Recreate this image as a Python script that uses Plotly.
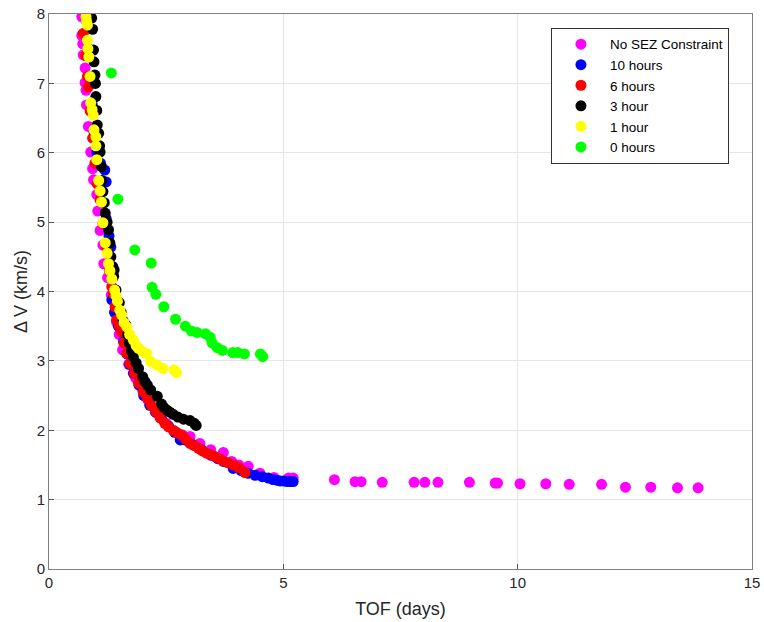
import plotly.graph_objects as go

# ---- data ----
nosez_tof = [0.70, 0.70, 0.72, 0.73, 0.77, 0.77, 0.79, 0.80, 0.84, 0.89, 0.93, 0.95, 1.02, 1.04, 1.09, 1.15, 1.17,
             1.25, 1.33, 1.40, 1.44, 1.50, 1.57, 1.70, 1.85, 2.00, 2.15, 2.30, 2.50, 2.70, 2.85, 3.01, 3.22, 3.45,
             3.72, 3.90, 4.05, 4.25, 4.50, 4.80, 5.11, 5.21,
             6.09, 6.53, 6.66, 7.11, 7.79, 8.02, 8.30, 8.97, 9.52, 9.57, 10.05, 10.60, 11.10, 11.79, 12.30, 12.84,
             13.41, 13.85]
nosez_dv = [7.96, 7.69, 7.57, 7.41, 7.22, 7.01, 6.90, 6.69, 6.38, 6.01, 5.77, 5.61, 5.40, 5.16, 4.88, 4.67, 4.40,
            4.20, 3.95, 3.70, 3.56, 3.38, 3.16, 2.95, 2.75, 2.58, 2.40, 2.25, 2.10, 1.98, 1.93, 1.91, 1.81, 1.72,
            1.68, 1.55, 1.50, 1.48, 1.38, 1.32, 1.31, 1.31,
            1.287, 1.258, 1.258, 1.249, 1.249, 1.249, 1.249, 1.249, 1.239, 1.239, 1.229, 1.229, 1.220, 1.220,
            1.18, 1.18, 1.17, 1.17]

h10_tof = [0.80, 0.84, 0.88, 0.92, 0.96, 1.02, 1.10, 1.19, 1.22, 1.22, 1.28, 1.32, 1.34, 1.34, 1.40, 1.48, 1.59,
           1.66, 1.72, 1.80, 1.92, 2.02, 2.15, 2.27, 2.40, 2.55, 2.68, 2.80, 2.90, 3.05, 3.25, 3.45, 3.60, 3.72,
           3.93, 4.10, 4.25, 4.40, 4.55, 4.68, 4.78, 4.86, 4.93, 5.00, 5.08, 5.15, 5.21]
h10_dv = [7.90, 7.50, 7.10, 6.70, 6.30, 6.00, 5.85, 5.75, 5.58, 5.05, 4.80, 4.64, 4.30, 3.88, 3.70, 3.50, 3.28,
          3.10, 2.95, 2.82, 2.65, 2.50, 2.36, 2.26, 2.17, 2.06, 1.97, 1.86, 1.86, 1.80, 1.72, 1.64, 1.59, 1.55,
          1.45, 1.42, 1.38, 1.35, 1.33, 1.31, 1.29, 1.28, 1.27, 1.27, 1.26, 1.26, 1.26]

h6_tof = [0.73, 0.78, 0.82, 0.84, 0.88, 0.93, 0.98, 1.03, 1.09, 1.15, 1.23, 1.29, 1.34, 1.37, 1.41, 1.44, 1.50,
          1.55, 1.60, 1.66, 1.73, 1.82, 1.91, 2.01, 2.10, 2.18, 2.28, 2.37, 2.47, 2.55, 2.65, 2.74, 2.83, 2.92,
          3.01, 3.10, 3.19, 3.28, 3.36, 3.45, 3.54, 3.63, 3.72, 3.82, 3.93, 4.05, 4.18]
h6_dv = [7.72, 7.40, 7.10, 6.95, 6.60, 6.21, 5.85, 5.55, 5.32, 4.98, 4.64, 4.30, 4.07, 3.97, 3.78, 3.59, 3.50,
         3.42, 3.26, 3.11, 2.96, 2.82, 2.68, 2.55, 2.45, 2.36, 2.27, 2.18, 2.10, 2.05, 2.00, 1.96, 1.93, 1.87,
         1.81, 1.78, 1.74, 1.70, 1.67, 1.65, 1.62, 1.59, 1.56, 1.53, 1.50, 1.46, 1.39]

h3_tof = [0.91, 0.93, 0.95, 0.96, 0.98, 0.99, 1.00, 1.02, 1.03, 1.06, 1.08, 1.09, 1.12, 1.13, 1.15, 1.18, 1.20,
          1.24, 1.27, 1.30, 1.32, 1.36, 1.39, 1.38, 1.43, 1.50, 1.54, 1.58, 1.64, 1.68, 1.71, 1.76, 1.80, 1.86,
          1.91, 2.00, 2.05, 2.10, 2.17, 2.31, 2.40, 2.45, 2.52, 2.58, 2.65, 2.75, 2.87, 3.01, 3.10, 3.14]
h3_dv = [7.94, 7.78, 7.48, 7.31, 7.12, 7.00, 6.81, 6.61, 6.40, 6.28, 6.10, 6.01, 5.80, 5.60, 5.44, 5.28, 5.13,
         5.00, 4.89, 4.70, 4.50, 4.36, 4.31, 4.22, 4.02, 3.84, 3.70, 3.58, 3.52, 3.38, 3.26, 3.14, 3.06, 2.97,
         2.89, 2.77, 2.70, 2.65, 2.58, 2.49, 2.38, 2.33, 2.29, 2.26, 2.23, 2.19, 2.16, 2.14, 2.10, 2.07]

h1_tof = [0.79, 0.80, 0.82, 0.82, 0.83, 0.85, 0.875, 0.89, 0.92, 0.945, 0.96, 1.00, 1.00, 1.02, 1.06, 1.09, 1.12,
          1.15, 1.20, 1.24, 1.27, 1.30, 1.34, 1.40, 1.43, 1.46, 1.51, 1.55, 1.60, 1.66, 1.72, 1.80, 1.86, 1.91,
          2.00, 2.08, 2.17, 2.30, 2.43, 2.67, 2.72]
h1_dv = [7.96, 7.90, 7.84, 7.62, 7.50, 7.38, 7.10, 6.72, 6.62, 6.54, 6.33, 6.23, 6.10, 5.90, 5.60, 5.45, 5.29,
         4.99, 4.70, 4.55, 4.40, 4.30, 4.18, 4.02, 3.94, 3.86, 3.73, 3.66, 3.55, 3.49, 3.38, 3.30, 3.22, 3.18,
         3.13, 3.11, 2.99, 2.94, 2.89, 2.87, 2.83]

h0_tof = [1.33, 1.47, 1.83, 2.18, 2.20, 2.28, 2.45, 2.70, 2.91, 3.04, 3.16, 3.34, 3.44, 3.48, 3.59, 3.70, 3.92,
          4.03, 4.17, 4.51, 4.56]
h0_dv = [7.15, 5.33, 4.60, 4.41, 4.06, 3.96, 3.78, 3.60, 3.50, 3.43, 3.41, 3.39, 3.34, 3.26, 3.19, 3.15, 3.12,
         3.12, 3.10, 3.10, 3.06]

series = [
    ("No SEZ Constraint", nosez_tof, nosez_dv, "#ff00ff"),
    ("10 hours", h10_tof, h10_dv, "#0000ff"),
    ("6 hours", h6_tof, h6_dv, "#ff0000"),
    ("3 hour", h3_tof, h3_dv, "#000000"),
    ("1 hour", h1_tof, h1_dv, "#ffff00"),
    ("0 hours", h0_tof, h0_dv, "#00ff00"),
]

x_ticks = [0, 5, 10, 15]
y_ticks = [0, 1, 2, 3, 4, 5, 6, 7, 8]

fig = go.Figure()
for name, xs, ys, col in series:
    fig.add_trace(go.Scatter(x=xs, y=ys, mode="markers", name=name,
                             marker=dict(color=col, size=11, line=dict(width=0))))

axis_common = dict(showline=True, linecolor="#808080", linewidth=1, mirror=True,
                   showgrid=True, gridcolor="#e5e5e5", gridwidth=1, zeroline=False,
                   ticks="inside", ticklen=5, tickcolor="#555555", automargin=False,
                   ticklabeloverflow="allow",
                   tickfont=dict(family="Liberation Sans, Arial, sans-serif", size=15, color="#262626"))

fig.update_layout(
    width=764, height=622,
    margin=dict(l=49, r=12, t=14, b=53),
    paper_bgcolor="white", plot_bgcolor="white",
    font=dict(family="Liberation Sans, Arial, sans-serif", size=15, color="#262626"),
    xaxis=dict(range=[0, 15], tickvals=x_ticks, ticktext=[str(v) for v in x_ticks],
               title=dict(text="TOF (days)", standoff=12), **axis_common),
    yaxis=dict(range=[0, 8], tickvals=y_ticks, ticktext=[str(v) for v in y_ticks],
               title=dict(text="Δ V (km/s)", standoff=4), **axis_common),
    legend=dict(x=0.714, y=0.975, xanchor="left", yanchor="top",
                bordercolor="#333333", borderwidth=1, bgcolor="white",
                font=dict(size=13.5, color="#000000"), itemwidth=48, tracegroupgap=0),
    showlegend=True,
)

# remove the default 8px body margin so the figure fills the 764x622 window exactly
fig.write_html("out.html", config={"displayModeBar": False},
               post_script="document.body.style.margin='0px';document.body.style.overflow='hidden';")
